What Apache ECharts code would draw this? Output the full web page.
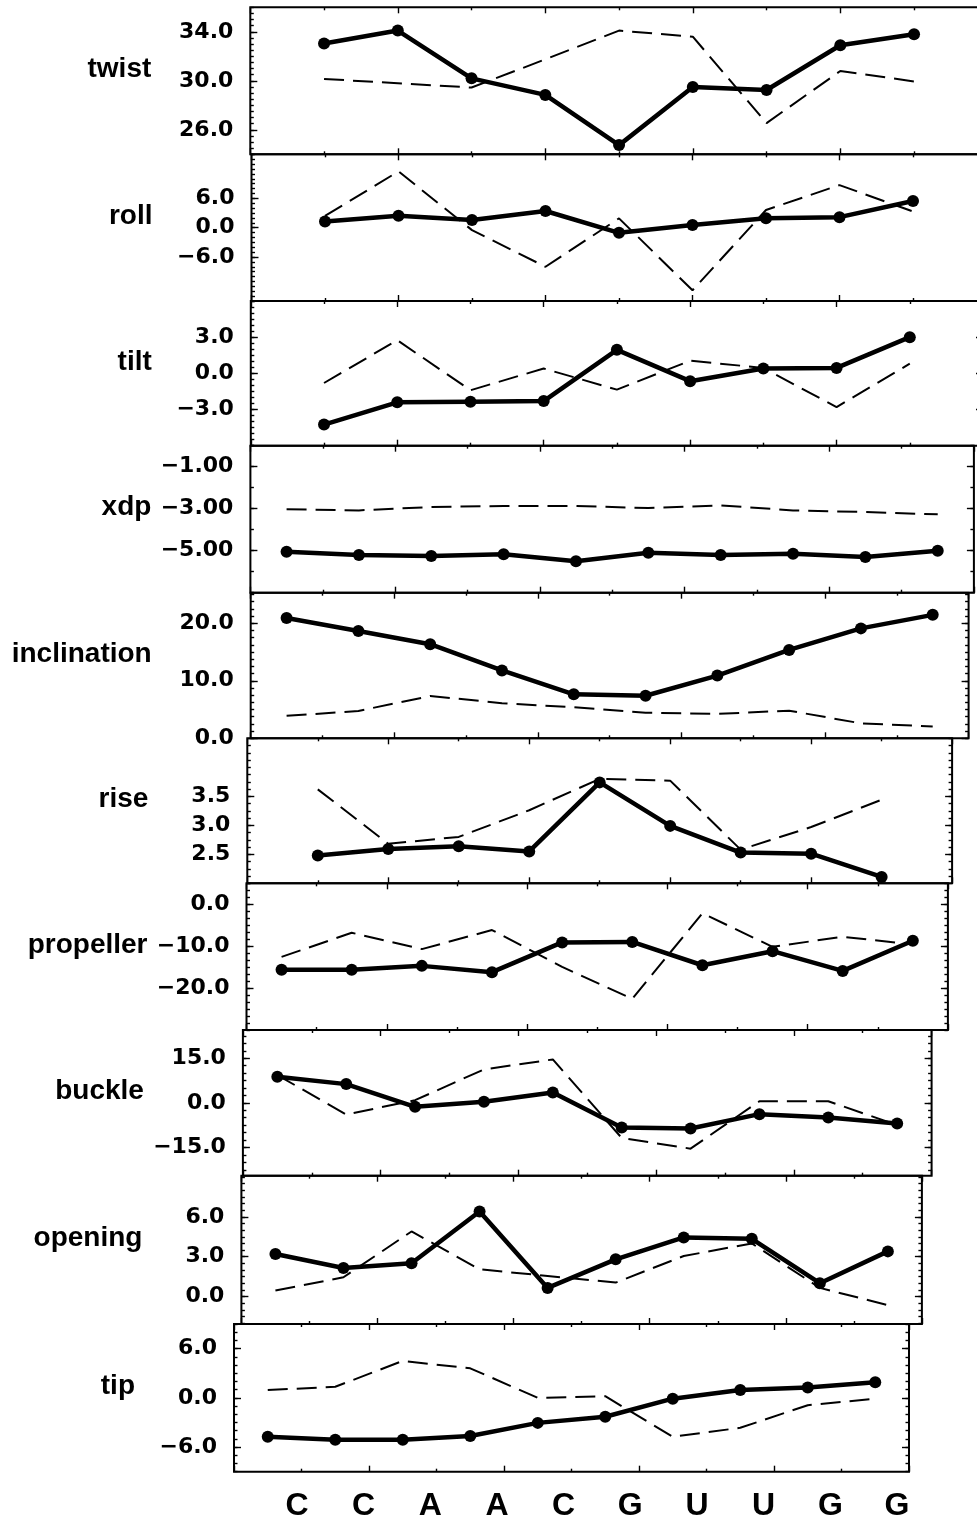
<!DOCTYPE html>
<html>
<head>
<meta charset="utf-8">
<title>helical parameters</title>
<script src="https://cdn.jsdelivr.net/npm/echarts@6.0.0/dist/echarts.min.js"></script>
<style>
html, body { margin: 0; padding: 0; background: #fff; }
#main { width: 977px; height: 1527px; }
</style>
</head>
<body>
<div id="main"></div>
<script>
// sequence and x positions (base pairs sit between the step values)
var bases = ['C', 'C', 'A', 'A', 'C', 'G', 'U', 'U', 'G', 'G'];
var pairPos = [0.5, 1.5, 2.5, 3.5, 4.5, 5.5, 6.5, 7.5, 8.5, 9.5];
var stepPos = [1, 2, 3, 4, 5, 6, 7, 8, 9];

// step parameters (9 values)
var twistSolid = [33.05, 34.1, 30.2, 28.85, 24.75, 29.5, 29.25, 32.9, 33.8];
var twistDashed = [30.15, 29.8, 29.45, 31.75, 34.1, 33.6, 26.55, 30.8, 29.95];
var rollSolid = [1.25, 2.45, 1.55, 3.4, -1.05, 0.55, 1.9, 2.15, 5.45];
var rollDashed = [2.4, 11.5, -0.5, -8.0, 1.9, -12.8, 3.6, 8.7, 3.3];
var tiltSolid = [-4.25, -2.4, -2.35, -2.3, 1.95, -0.65, 0.4, 0.45, 3.0];
var tiltDashed = [-0.8, 2.75, -1.4, 0.4, -1.35, 1.05, 0.45, -2.8, 0.8];
var riseSolid = [2.48, 2.59, 2.64, 2.55, 3.74, 2.99, 2.53, 2.51, 2.11];
var riseDashed = [3.62, 2.68, 2.8, 3.26, 3.8, 3.77, 2.58, 2.97, 3.44];

// base pair parameters (10 values)
var xdpSolid = [-5.05, -5.2, -5.25, -5.17, -5.5, -5.1, -5.2, -5.15, -5.3, -5.0];
var xdpDashed = [-3.03, -3.08, -2.92, -2.87, -2.87, -2.97, -2.84, -3.08, -3.16, -3.27];
var inclSolid = [20.9, 18.65, 16.35, 11.8, 7.65, 7.4, 10.9, 15.35, 19.1, 21.45];
var inclDashed = [3.9, 4.75, 7.35, 6.1, 5.4, 4.45, 4.25, 4.8, 2.6, 2.05];
var propSolid = [-15.6, -15.6, -14.7, -16.2, -9.1, -9.0, -14.55, -11.2, -15.9, -8.7];
var propDashed = [-12.55, -6.8, -10.7, -6.15, -14.95, -22.55, -2.15, -10.15, -7.75, -9.6];
var buckleSolid = [8.75, 6.3, -1.35, 0.35, 3.5, -8.3, -8.65, -3.8, -4.95, -6.95];
var buckleDashed = [9.35, -3.95, 0.9, 11.25, 14.6, -11.8, -15.4, 0.55, 0.55, -7.5];
var openSolid = [3.2, 2.15, 2.5, 6.4, 0.65, 2.8, 4.45, 4.35, 1.0, 3.4];
var openDashed = [0.45, 1.45, 4.9, 2.05, 1.55, 1.05, 3.05, 4.0, 0.65, -0.65];
var tipSolid = [-4.75, -5.1, -5.1, -4.65, -3.05, -2.3, -0.1, 0.95, 1.25, 1.9];
var tipDashed = [0.95, 1.35, 4.5, 3.6, 0.0, 0.2, -4.75, -3.65, -0.9, -0.1];

// tick labels of each panel
var twistTicks = [26, 30, 34];
var rollTicks = [-6, 0, 6];
var tiltTicks = [-3, 0, 3];
var xdpTicks = [-5, -3, -1];
var inclTicks = [0, 10, 20];
var riseTicks = [2.5, 3.0, 3.5];
var propTicks = [-20, -10, 0];
var buckleTicks = [-15, 0, 15];
var openTicks = [0, 3, 6];
var tipTicks = [-6, 0, 6];

var panels = [
    {name: 'twist', x: stepPos, solid: twistSolid, dashed: twistDashed, ticks: twistTicks, min: 24, max: 36, minor: 0.5, dec: 1},
    {name: 'roll', x: stepPos, solid: rollSolid, dashed: rollDashed, ticks: rollTicks, min: -15, max: 15, minor: 1, dec: 1},
    {name: 'tilt', x: stepPos, solid: tiltSolid, dashed: tiltDashed, ticks: tiltTicks, min: -6, max: 6, minor: 0.5, dec: 1},
    {name: 'xdp', x: pairPos, solid: xdpSolid, dashed: xdpDashed, ticks: xdpTicks, min: -7, max: 0, minor: 1, dec: 2},
    {name: 'inclination', x: pairPos, solid: inclSolid, dashed: inclDashed, ticks: inclTicks, min: 0, max: 25.3, minor: 1.25, dec: 1},
    {name: 'rise', x: stepPos, solid: riseSolid, dashed: riseDashed, ticks: riseTicks, min: 2, max: 4.5, minor: 0.125, dec: 1},
    {name: 'propeller', x: pairPos, solid: propSolid, dashed: propDashed, ticks: propTicks, min: -30, max: 5, minor: 10 / 6, dec: 1},
    {name: 'buckle', x: pairPos, solid: buckleSolid, dashed: buckleDashed, ticks: buckleTicks, min: -24.5, max: 24.5, minor: 2.5, dec: 1},
    {name: 'opening', x: pairPos, solid: openSolid, dashed: openDashed, ticks: openTicks, min: -2.07, max: 9.1, minor: 0.5, dec: 1},
    {name: 'tip', x: pairPos, solid: tipSolid, dashed: tipDashed, ticks: tipTicks, min: -9, max: 9, minor: 1, dec: 1}
];

// the scanned figure is slightly skewed, so every panel gets its own box
// [top, height, left, right]
var boxes = [
    [7.3, 147, 250.3, -10.8],
    [154.3, 146.7, 251.5, -9.5],
    [301, 144.7, 250.8, -6],
    [445.7, 147, 250.4, 3.1],
    [592.7, 145.6, 250.7, 8.4],
    [738.3, 145, 247.3, 24.9],
    [883.3, 146.7, 246.5, 29.1],
    [1030, 145.7, 242.9, 45.4],
    [1175.7, 148.3, 241.4, 55.1],
    [1324, 147.7, 234, 68]
];

function fmt(dec) {
    return function (v) {
        var s = Math.abs(v).toFixed(dec);
        return v < -1e-9 ? '\u2212' + s : s;
    };
}

function minorValues(min, max, step) {
    var out = [];
    for (var k = Math.ceil(min / step - 1e-9); k * step <= max + 1e-9; k++) {
        out.push(+(k * step).toFixed(4));
    }
    return out;
}

function pairs(xs, ys) {
    return ys.map(function (y, k) { return [xs[k], y]; });
}

var tickLine = {color: '#000', width: 1.4};
var grid = [], xAxis = [], yAxis = [], series = [];

panels.forEach(function (p, i) {
    var b = boxes[i];
    grid.push({
        top: b[0], height: b[1], left: b[2], right: b[3],
        show: true, borderColor: '#000', borderWidth: 2,
        containLabel: false, outerBoundsMode: 'none'
    });

    ['bottom', 'top'].forEach(function (side) {
        xAxis.push({
            type: 'value', gridIndex: i, position: side,
            min: 0, max: 10, interval: 2,
            axisLine: {show: false, onZero: false},
            axisLabel: {show: false},
            splitLine: {show: false},
            axisTick: {show: true, inside: true, length: 6, lineStyle: tickLine},
            minorTick: {show: true, splitNumber: 2, length: 3, lineStyle: tickLine}
        });
    });

    var minors = minorValues(p.min, p.max, p.minor);
    yAxis.push({
        type: 'value', gridIndex: i, position: 'left',
        min: p.min, max: p.max,
        name: p.name, nameLocation: 'middle', nameGap: 99, nameRotate: 0,
        nameMoveOverlap: false,
        nameTextStyle: {
            fontFamily: 'Liberation Sans, Arial, sans-serif', fontWeight: 'bold',
            fontSize: 28, color: '#000', verticalAlign: 'bottom', lineHeight: 23
        },
        axisLine: {show: false, onZero: false},
        splitLine: {show: false},
        axisTick: {show: true, inside: true, length: 7, customValues: p.ticks, lineStyle: tickLine},
        axisLabel: {
            customValues: p.ticks, formatter: fmt(p.dec), margin: 17,
            fontFamily: 'DejaVu Sans, sans-serif', fontWeight: 'bold', fontSize: 22, color: '#000'
        }
    });
    yAxis.push({
        type: 'value', gridIndex: i, position: 'left', min: p.min, max: p.max,
        axisLine: {show: false, onZero: false}, axisLabel: {show: false}, splitLine: {show: false},
        axisTick: {show: true, inside: true, length: 3.5, customValues: minors, lineStyle: tickLine}
    });
    yAxis.push({
        type: 'value', gridIndex: i, position: 'right', min: p.min, max: p.max,
        axisLine: {show: false, onZero: false}, axisLabel: {show: false}, splitLine: {show: false},
        axisTick: {show: true, inside: true, length: 7, customValues: p.ticks, lineStyle: tickLine}
    });
    yAxis.push({
        type: 'value', gridIndex: i, position: 'right', min: p.min, max: p.max,
        axisLine: {show: false, onZero: false}, axisLabel: {show: false}, splitLine: {show: false},
        axisTick: {show: true, inside: true, length: 3.5, customValues: minors, lineStyle: tickLine}
    });

    series.push({
        type: 'line', xAxisIndex: 2 * i, yAxisIndex: 4 * i,
        data: pairs(p.x, p.dashed),
        symbol: 'none', z: 2,
        lineStyle: {color: '#000', width: 2, type: [20, 9]}
    });
    series.push({
        type: 'line', xAxisIndex: 2 * i, yAxisIndex: 4 * i,
        data: pairs(p.x, p.solid),
        symbol: 'circle', symbolSize: 12, z: 3,
        itemStyle: {color: '#000'},
        lineStyle: {color: '#000', width: 4.5}
    });
});

// sequence letters under the last panel
var lastGrid = grid.length;
grid.push({top: 1470, height: 2, left: 230.3, right: 80, show: false, outerBoundsMode: 'none'});
xAxis.push({
    type: 'value', gridIndex: lastGrid, min: 0, max: 10, interval: 1,
    axisLine: {show: false, onZero: false}, axisTick: {show: false}, splitLine: {show: false},
    axisLabel: {
        margin: 18, fontFamily: 'Liberation Sans, Arial, sans-serif', fontWeight: 'bold',
        fontSize: 32, color: '#000',
        formatter: function (v) { return bases[v - 1] || ''; }
    }
});
yAxis.push({type: 'value', gridIndex: lastGrid, min: 0, max: 1, show: false});

var myChart = echarts.init(document.getElementById('main'));
myChart.setOption({
    backgroundColor: '#fff',
    animation: false,
    grid: grid,
    xAxis: xAxis,
    yAxis: yAxis,
    series: series
});
</script>
</body>
</html>
